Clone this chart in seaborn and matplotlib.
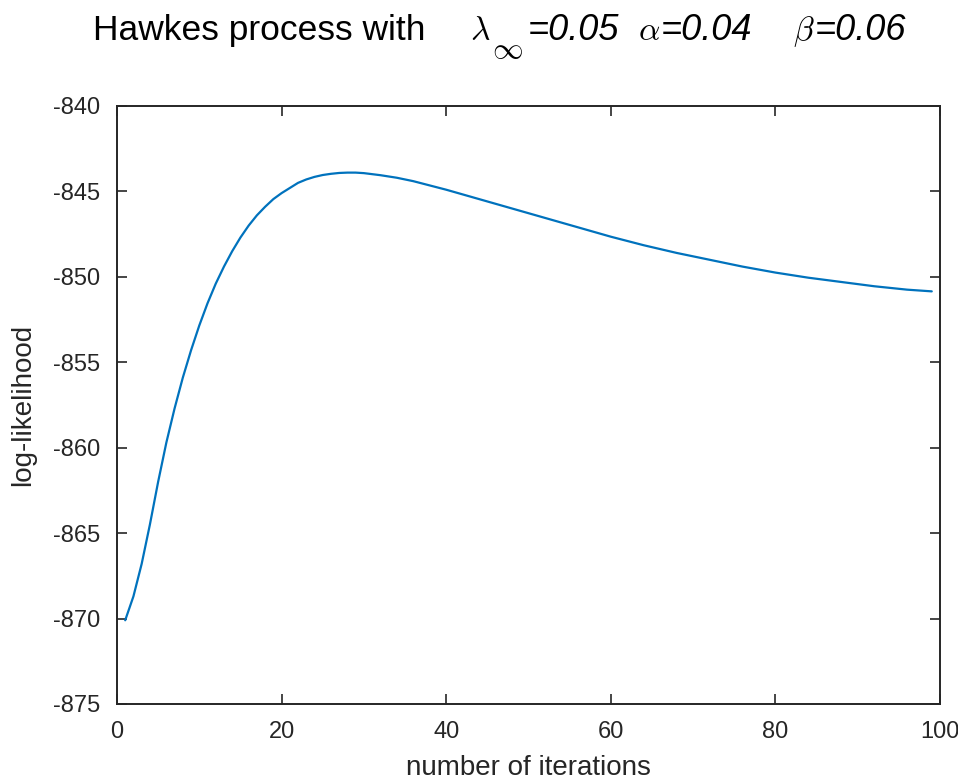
import pandas as pd
import matplotlib
matplotlib.use("Agg")
import matplotlib.pyplot as plt
import seaborn as sns

# values
iterations = [1, 2, 3, 4, 5, 6, 7, 8, 9, 10, 11, 12, 13, 14, 15, 16, 17, 18, 19, 20,
              21, 22, 23, 24, 25, 26, 27, 28, 29, 30, 32, 34, 36, 38, 40, 44, 48, 52,
              56, 60, 64, 68, 72, 76, 80, 84, 88, 92, 96, 99]
log_likelihood = [-870.1, -868.7, -866.8, -864.5, -862.0, -859.7, -857.7, -855.9, -854.3,
                  -852.85, -851.55, -850.4, -849.4, -848.5, -847.7, -847.0, -846.4, -845.9,
                  -845.45, -845.1, -844.8, -844.5, -844.3, -844.15, -844.04, -843.97,
                  -843.92, -843.9, -843.9, -843.93, -844.05, -844.2, -844.4, -844.65,
                  -844.9, -845.45, -846.0, -846.55, -847.1, -847.65, -848.15, -848.6,
                  -849.0, -849.4, -849.75, -850.05, -850.3, -850.55, -850.75, -850.85]
x_ticks = [0, 20, 40, 60, 80, 100]
y_ticks = [-875, -870, -865, -860, -855, -850, -845, -840]

df = pd.DataFrame({"iteration": iterations, "loglik": log_likelihood})

sns.set_style("ticks")
plt.rcParams["font.family"] = ["Liberation Sans", "DejaVu Sans"]
plt.rcParams["mathtext.fontset"] = "cm"
plt.rcParams["axes.unicode_minus"] = False

fig = plt.figure(figsize=(9.58, 7.81), dpi=100)
ax = fig.add_axes([0.1221, 0.0986, 0.8591, 0.7657])

sns.lineplot(data=df, x="iteration", y="loglik", color="#0072BD", lw=1.6, ax=ax)

ax.set_xlim(0, 100)
ax.set_ylim(-875, -840)
ax.set_xticks(x_ticks)
ax.set_yticks(y_ticks)
ax.tick_params(direction="in", length=7, width=1.2, color="#262626",
               labelsize=17, pad=12, labelcolor="#262626",
               top=True, right=True)
for side in ["top", "bottom", "left", "right"]:
    ax.spines[side].set_visible(True)
    ax.spines[side].set_linewidth(1.4)
    ax.spines[side].set_color("#262626")

ax.set_xlabel("number of iterations", fontsize=20, color="#262626", labelpad=9)
ax.set_ylabel("log-likelihood", fontsize=20, color="#262626", labelpad=12)

# title pieces, placed in pixel coordinates of the figure
W, H = 958, 781
base = 1 - 40 / H
title_kw = dict(ha="left", va="baseline", color="black")
fig.text(93 / W, base, "Hawkes process with", fontsize=25.5, **title_kw)
fig.text(470 / W, base, r"$\lambda$", fontsize=24, **title_kw)
fig.text(492 / W, 1 - 58 / H, r"$\infty$", fontsize=22, **title_kw)
fig.text(528 / W, base, "=0.05", fontsize=26, style="italic", **title_kw)
fig.text(638 / W, base, r"$\alpha$", fontsize=24, **title_kw)
fig.text(661 / W, base, "=0.04", fontsize=26, style="italic", **title_kw)
fig.text(793 / W, base, r"$\beta$", fontsize=24, **title_kw)
fig.text(815 / W, base, "=0.06", fontsize=26, style="italic", **title_kw)

fig.savefig("out.png", dpi=100)
plt.close(fig)
